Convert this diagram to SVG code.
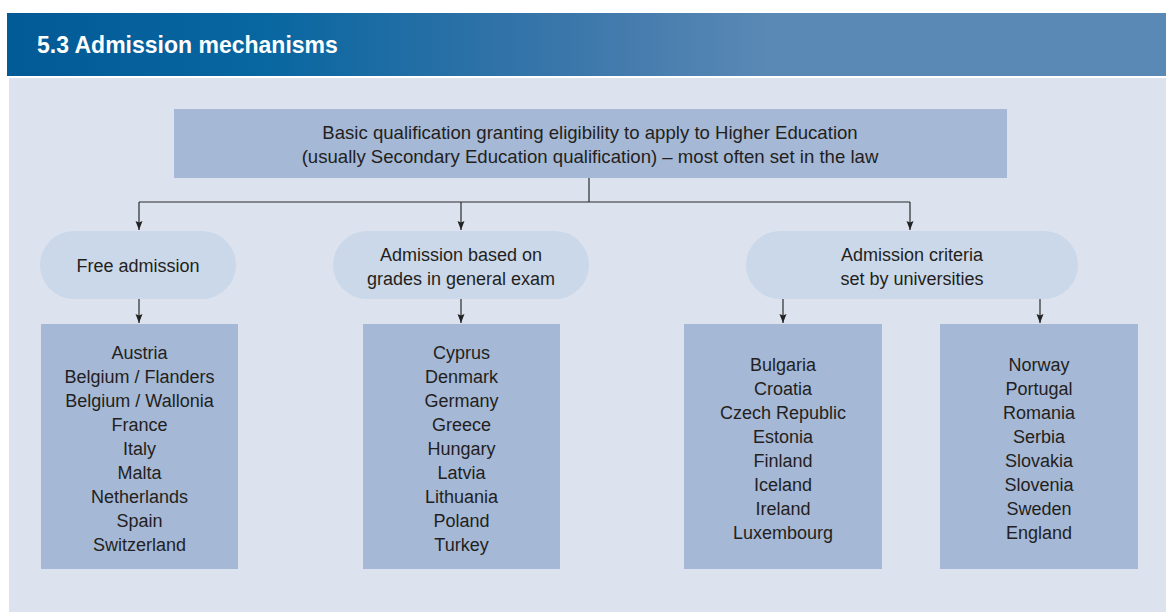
<svg xmlns="http://www.w3.org/2000/svg" width="1171" height="612" viewBox="0 0 1171 612">
  <defs>
    <linearGradient id="hdr" x1="0" y1="0" x2="1" y2="0">
      <stop offset="0" stop-color="#025a96"/>
      <stop offset="0.22" stop-color="#0866a0"/>
      <stop offset="0.48" stop-color="#3a76aa"/>
      <stop offset="0.66" stop-color="#5b89b5"/>
      <stop offset="1" stop-color="#5b89b5"/>
    </linearGradient>
    <marker id="arr" markerUnits="userSpaceOnUse" markerWidth="9" markerHeight="8" refX="9" refY="4" orient="auto" viewBox="0 0 9 8">
      <path d="M0,0.5 L9,4 L0,7.5 L1.5,4 Z" fill="#222"/>
    </marker>
    <style>
      .t { font-family: "Liberation Sans", Arial, sans-serif; font-size: 18px; fill: #231f20; text-anchor: middle; }
      .top { font-size: 18.6px; }
      .box { fill: #a5b8d6; }
      .pill { fill: #cbd8e9; }
      .ln { stroke: #2a2a2a; stroke-width: 1.2; fill: none; }
      .ar { stroke: #2a2a2a; stroke-width: 1.2; fill: none; marker-end: url(#arr); }
    </style>
  </defs>

  <rect x="0" y="0" width="1171" height="612" fill="#ffffff"/>
  <g id="header">
    <rect x="7" y="13" width="1159" height="63" fill="url(#hdr)"/>
    <text x="37" y="53" font-family="'Liberation Sans', Arial, sans-serif" font-size="23" font-weight="bold" fill="#ffffff">5.3 Admission mechanisms</text>
  </g>
  <rect x="9" y="78" width="1157" height="534" fill="#dce3ef"/>

  <g id="connectors">
    <line class="ln" x1="589" y1="178" x2="589" y2="202"/>
    <line class="ln" x1="139" y1="202" x2="910" y2="202"/>
    <line class="ar" x1="139" y1="202" x2="139" y2="230"/>
    <line class="ar" x1="461" y1="202" x2="461" y2="230"/>
    <line class="ar" x1="910" y1="202" x2="910" y2="230"/>
    <line class="ar" x1="139" y1="299" x2="139" y2="323"/>
    <line class="ar" x1="461" y1="299" x2="461" y2="323"/>
    <line class="ar" x1="783" y1="299" x2="783" y2="323"/>
    <line class="ar" x1="1040" y1="299" x2="1040" y2="323"/>
  </g>

  <g id="basic">
    <rect class="box" x="174" y="109" width="833" height="69"/>
    <text class="t top" x="590" y="139">Basic qualification granting eligibility to apply to Higher Education</text>
    <text class="t top" x="590" y="163">(usually Secondary Education qualification) – most often set in the law</text>
  </g>

  <g id="free">
    <rect class="pill" x="40" y="231" width="196" height="68" rx="34"/>
    <text class="t" x="138" y="272">Free admission</text>
  </g>
  <g id="grades">
    <rect class="pill" x="333" y="231" width="256" height="68" rx="34"/>
    <text class="t" x="461" y="261">Admission based on</text>
    <text class="t" x="461" y="285">grades in general exam</text>
  </g>
  <g id="criteria">
    <rect class="pill" x="746" y="231" width="332" height="68" rx="34"/>
    <text class="t" x="912" y="261">Admission criteria</text>
    <text class="t" x="912" y="285">set by universities</text>
  </g>

  <g id="list-free">
    <rect class="box" x="41" y="324" width="197" height="245"/>
    <text class="t" x="139.5" y="359">Austria</text>
    <text class="t" x="139.5" y="383">Belgium / Flanders</text>
    <text class="t" x="139.5" y="407">Belgium / Wallonia</text>
    <text class="t" x="139.5" y="431">France</text>
    <text class="t" x="139.5" y="455">Italy</text>
    <text class="t" x="139.5" y="479">Malta</text>
    <text class="t" x="139.5" y="503">Netherlands</text>
    <text class="t" x="139.5" y="527">Spain</text>
    <text class="t" x="139.5" y="551">Switzerland</text>
  </g>
  <g id="list-grades">
    <rect class="box" x="363" y="324" width="197" height="245"/>
    <text class="t" x="461.5" y="359">Cyprus</text>
    <text class="t" x="461.5" y="383">Denmark</text>
    <text class="t" x="461.5" y="407">Germany</text>
    <text class="t" x="461.5" y="431">Greece</text>
    <text class="t" x="461.5" y="455">Hungary</text>
    <text class="t" x="461.5" y="479">Latvia</text>
    <text class="t" x="461.5" y="503">Lithuania</text>
    <text class="t" x="461.5" y="527">Poland</text>
    <text class="t" x="461.5" y="551">Turkey</text>
  </g>
  <g id="list-univ-1">
    <rect class="box" x="684" y="324" width="198" height="245"/>
    <text class="t" x="783" y="371">Bulgaria</text>
    <text class="t" x="783" y="395">Croatia</text>
    <text class="t" x="783" y="419">Czech Republic</text>
    <text class="t" x="783" y="443">Estonia</text>
    <text class="t" x="783" y="467">Finland</text>
    <text class="t" x="783" y="491">Iceland</text>
    <text class="t" x="783" y="515">Ireland</text>
    <text class="t" x="783" y="539">Luxembourg</text>
  </g>
  <g id="list-univ-2">
    <rect class="box" x="940" y="324" width="198" height="245"/>
    <text class="t" x="1039" y="371">Norway</text>
    <text class="t" x="1039" y="395">Portugal</text>
    <text class="t" x="1039" y="419">Romania</text>
    <text class="t" x="1039" y="443">Serbia</text>
    <text class="t" x="1039" y="467">Slovakia</text>
    <text class="t" x="1039" y="491">Slovenia</text>
    <text class="t" x="1039" y="515">Sweden</text>
    <text class="t" x="1039" y="539">England</text>
  </g>
</svg>
